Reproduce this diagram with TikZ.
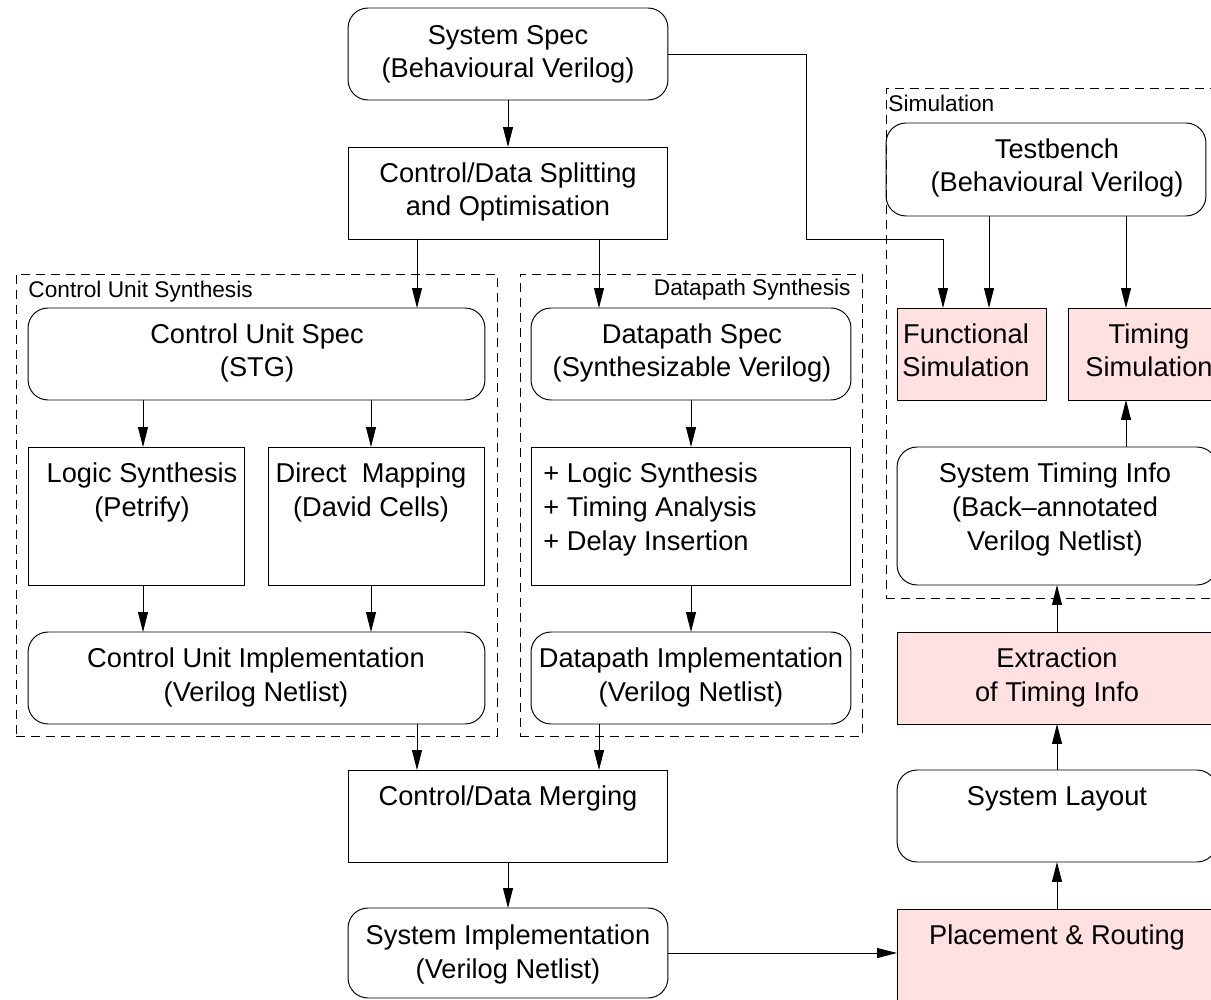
\documentclass[tikz,border=0pt]{standalone}
\usepackage{fontspec}
\setmainfont{Liberation Sans}
\usetikzlibrary{arrows.meta}
\definecolor{simpink}{RGB}{255,225,225}
\newcommand\boxfont{\fontsize{15.5}{19.3}\selectfont}
\newcommand\grpfont{\fontsize{12.9}{15}\selectfont}

\begin{document}
\begin{tikzpicture}[x=0.02cm, y=-0.02cm, line width=0.55pt,
  box/.style={draw, inner sep=0pt, outer sep=0pt},
  rbox/.style={box, rounded corners=0.4cm},
  pinkbox/.style={box, fill=simpink},
  group/.style={draw, dash pattern=on 0.18cm off 0.12cm, line width=0.5pt, inner sep=0pt, outer sep=0pt},
  txt/.style={anchor=base, align=center, inner sep=0pt, font=\boxfont},
  grp/.style={anchor=base west, inner sep=0pt, font=\grpfont},
  arr/.style={-{Triangle[length=0.4cm,width=0.2cm]}}]

\useasboundingbox (0,0) rectangle (1211,1000);
\clip (0,0) rectangle (1211,1000);

% dashed groupings
\node[group, minimum width=9.62cm, minimum height=9.24cm] (cugroup) at (256.5,505) {};
\node[group, minimum width=6.84cm, minimum height=9.24cm] (dpgroup) at (691,505) {};
\node[group, minimum width=7.08cm, minimum height=10.2cm] (simgroup) at (1063,343) {};
\node[grp] (cugroupT) at (28,297) {Control Unit Synthesis};
\node[grp, anchor=base east] (dpgroupT) at (851,296) {Datapath Synthesis};
\node[grp] (simgroupT) at (888,112) {Simulation};

% main flow (text nodes sit on the baseline of their last line)
\node[rbox, minimum width=6.4cm, minimum height=1.84cm] (sysspec) at (508,54) {};
\node[txt] (sysspecT) at (508,78) {System Spec\\(Behavioural Verilog)};
\node[box, minimum width=6.4cm, minimum height=1.84cm] (split) at (508,193) {};
\node[txt] (splitT) at (508,216) {Control/Data Splitting\\and Optimisation};

% control unit synthesis
\node[rbox, minimum width=9.14cm, minimum height=1.84cm] (cuspec) at (256.5,354) {};
\node[txt] (cuspecT) at (257,377) {Control Unit Spec\\(STG)};
\node[box, minimum width=4.34cm, minimum height=2.76cm] (logsyn) at (136.5,516) {};
\node[txt] (logsynT) at (142,516) {Logic Synthesis\\(Petrify)};
\node[box, minimum width=4.34cm, minimum height=2.76cm] (dirmap) at (376.5,516) {};
\node[txt] (dirmapT) at (371,516) {Direct\ \ Mapping\\(David Cells)};
\node[rbox, minimum width=9.14cm, minimum height=1.84cm] (cuimpl) at (256.5,678) {};
\node[txt] (cuimplT) at (256,701) {Control Unit Implementation\\(Verilog Netlist)};

% datapath synthesis
\node[rbox, minimum width=6.4cm, minimum height=1.84cm] (dpspec) at (691,354) {};
\node[txt] (dpspecT) at (692,377) {Datapath Spec\\(Synthesizable Verilog)};
\node[box, minimum width=6.4cm, minimum height=2.76cm] (dpsyn) at (691,516) {};
\node[txt, anchor=base west, align=left] (dpsynT) at (543,550) {+ Logic Synthesis\\+ Timing Analysis\\+ Delay Insertion};
\node[rbox, minimum width=6.4cm, minimum height=1.84cm] (dpimpl) at (691,678) {};
\node[txt] (dpimplT) at (691,701) {Datapath Implementation\\(Verilog Netlist)};

% merging and implementation
\node[box, minimum width=6.4cm, minimum height=1.84cm] (merge) at (508,816) {};
\node[txt] (mergeT) at (508,805) {Control/Data Merging};
\node[rbox, minimum width=6.4cm, minimum height=1.8cm] (sysimpl) at (508,953) {};
\node[txt] (sysimplT) at (508,978) {System Implementation\\(Verilog Netlist)};

% back end
\node[pinkbox, minimum width=6.4cm, minimum height=2.76cm] (pr) at (1057,978) {};
\node[txt] (prT) at (1057,944) {Placement \& Routing};
\node[rbox, minimum width=6.4cm, minimum height=1.84cm] (layout) at (1057,816) {};
\node[txt] (layoutT) at (1057,805) {System Layout};
\node[pinkbox, minimum width=6.4cm, minimum height=1.84cm] (extract) at (1057,678) {};
\node[txt] (extractT) at (1057,701) {Extraction\\of Timing Info};
\node[rbox, minimum width=6.4cm, minimum height=2.76cm] (timinfo) at (1057,516) {};
\node[txt] (timinfoT) at (1055,550) {System Timing Info\\(Back\textendash annotated\\Verilog Netlist)};

% simulation
\node[rbox, minimum width=6.4cm, minimum height=1.86cm] (testbench) at (1046,169.5) {};
\node[txt] (testbenchT) at (1057,192) {Testbench\\(Behavioural Verilog)};
\node[pinkbox, minimum width=2.98cm, minimum height=1.84cm] (funsim) at (971.5,354) {};
\node[txt] (funsimT) at (966,377) {Functional\\Simulation};
\node[pinkbox, minimum width=3.0cm, minimum height=1.84cm] (timsim) at (1143,354) {};
\node[txt] (timsimT) at (1149,377) {Timing\\Simulation};

% connector columns
\coordinate (xCU) at (417,0);
\coordinate (xDP) at (599,0);
\coordinate (xLS) at (143,0);
\coordinate (xDM) at (371,0);
\coordinate (xFS) at (943,0);
\coordinate (xTB) at (989,0);
\coordinate (xTS) at (1126,0);
\coordinate (bendA) at (806,239);

% connectors
\draw[arr] (sysspec) -- (split);
\draw[arr] (split.south -| xCU) -- (cuspec.north -| xCU);
\draw[arr] (split.south -| xDP) -- (dpspec.north -| xDP);
\draw[arr] (cuspec.south -| xLS) -- (logsyn.north -| xLS);
\draw[arr] (cuspec.south -| xDM) -- (dirmap.north -| xDM);
\draw[arr] (logsyn.south -| xLS) -- (cuimpl.north -| xLS);
\draw[arr] (dirmap.south -| xDM) -- (cuimpl.north -| xDM);
\draw[arr] (dpspec) -- (dpsyn);
\draw[arr] (dpsyn) -- (dpimpl);
\draw[arr] (cuimpl.south -| xCU) -- (merge.north -| xCU);
\draw[arr] (dpimpl.south -| xDP) -- (merge.north -| xDP);
\draw[arr] (merge) -- (sysimpl);
\draw[arr] (sysimpl.east) -- (sysimpl.east -| pr.west);
\draw[arr] (pr.north) -- (layout.south);
\draw[arr] (layout) -- (extract);
\draw[arr] (extract) -- (timinfo);
\draw[arr] (timinfo.north -| xTS) -- (timsim.south -| xTS);
\draw[arr] (testbench.south -| xTB) -- (funsim.north -| xTB);
\draw[arr] (testbench.south -| xTS) -- (timsim.north -| xTS);
\draw[arr] (sysspec.east) -| (bendA) -| (funsim.north -| xFS);
\end{tikzpicture}
\end{document}
